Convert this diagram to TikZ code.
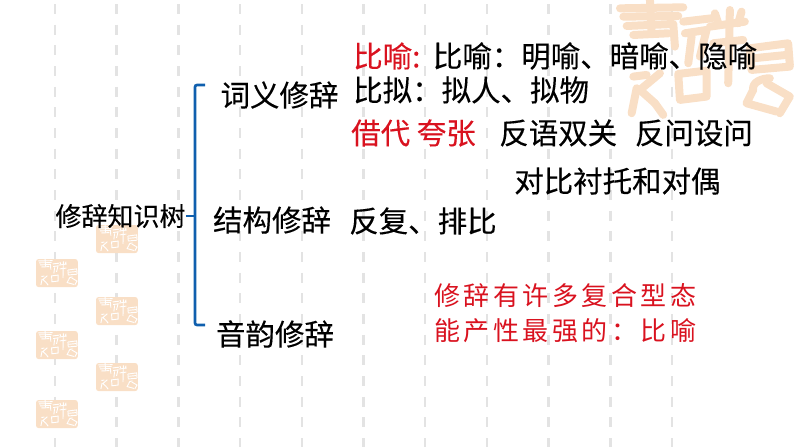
\documentclass[tikz,border=0pt]{standalone}
\usepackage{fontspec}
\setmainfont{Noto Sans CJK SC}
\newfontfamily\darkfont[FakeBold=0.25]{Noto Sans CJK SC}
\usetikzlibrary{positioning}
\definecolor{branch}{HTML}{0F5FAE}
\definecolor{alert}{HTML}{D9121F}
\definecolor{sealtone}{HTML}{F9DFC6}
\definecolor{gridline}{HTML}{E3E3E3}
\newcommand{\sealstrokes}[1]{%
  \draw[#1] (30,25) -- (220,22);
  \draw[#1] (40,50) -- (205,48);
  \draw[#1] (120,0) -- (125,100);
  \draw[#1] (50,78) -- (190,72) -- (195,140);
  \draw[#1] (70,105) -- (175,100);
  \draw[#1] (220,65) -- (305,55);
  \draw[#1] (225,100) -- (290,90) -- (270,170);
  \draw[#1] (245,110) -- (235,190);
  \draw[#1] (300,80) -- (405,65);
  \draw[#1] (360,30) -- (355,250);
  \draw[#1] (315,40) -- (325,70);
  \draw[#1] (395,35) -- (385,70);
  \draw[#1] (310,130) -- (400,120);
  \draw[#1] (420,145) -- (535,130) -- (540,195);
  \draw[#1] (420,145) -- (425,210) -- (540,200);
  \draw[#1] (430,175) -- (530,165);
  \draw[#1] (470,250) -- (540,290) -- (510,340);
  \draw[#1] (430,270) to[out=100,in=180] (480,235);
  \draw[#1] (430,270) -- (410,310) -- (500,335);
  \draw[#1] (150,220) -- (90,270) -- (135,310);
  \draw[#1] (70,230) -- (110,225);
  \draw[#1] (80,265) -- (65,340);
  \draw[#1] (135,310) -- (160,345);
  \draw[#1] (205,222) -- (290,212) -- (290,290) -- (210,300) -- cycle;
}
\begin{document}
\begin{tikzpicture}[
  x=0.75pt,y=-0.75pt,
  root/.style={inner sep=0pt,font=\darkfont\fontsize{19.5pt}{19.5pt}\selectfont},
  cat/.style={inner sep=0pt,font=\darkfont\fontsize{22.1pt}{22.1pt}\selectfont},
  leaf/.style={inner sep=0pt,anchor=west,font=\darkfont\fontsize{22.1pt}{22.1pt}\selectfont},
  note/.style={inner sep=0pt,anchor=west,text=alert,font=\fontsize{19.5pt}{19.5pt}\selectfont},
  arr/.style={branch,line width=2pt,rounded corners=1.5pt},
  big/.style={sealtone,line width=6pt,line cap=round,line join=round},
  small/.style={white,line width=0.7pt},
]
\useasboundingbox (0,0) rectangle (794,447);
% ruled paper
\foreach \x in {55,116.7,...,680}
  \draw[gridline,line width=1.9pt,dash pattern=on 7.5pt off 8pt,dash phase=12.5pt] (\x,0) -- (\x,447);
% big seal
\begin{scope}[shift={(610,0)},scale=0.333]
  \sealstrokes{big}
\end{scope}
% small seals
\foreach \sx/\sy in {96/225,36/259,96/297,36/331,96/363,36/400}{
  \begin{scope}[shift={(\sx,\sy)},scale=0.076]
    \fill[sealtone,rounded corners=2pt] (0,0) rectangle (550,370);
    \sealstrokes{small}
  \end{scope}
}

\node[root] (tree) at (120.5,216) {修辞知识树};
\node[cat] (ci) at (279.5,95) {词义修辞};
\node[cat] (jie) at (272,220) {结构修辞};
\node[cat] (yin) at (275,334) {音韵修辞};

\node[leaf,text=alert] (biyu) at (353,56) {比喻:};
\node[leaf,right=9pt of biyu] (biyus) {比喻：明喻、暗喻、隐喻};
\node[leaf] (bini) at (353,90) {比拟：拟人、拟物};
\node[leaf,text=alert] (jiedai) at (351,133) {借代 夸张};
\node[leaf] (fan) at (499,133) {反语双关};
\node[leaf,right=13pt of fan] (wen) {反问设问};
\node[leaf] (dui) at (514,181) {对比衬托和对偶};
\node[leaf] (fu) at (349,221) {反复、排比};
\node[note] (noteup) at (434,296) {\addfontfeature{LetterSpace=13.5}修辞有许多复合型态};
\node[note,below=7.5pt of noteup.south west,anchor=north west] (notelow) {\addfontfeature{LetterSpace=13.5}能产性最强的：比喻};

% bracket
\coordinate (top) at (205,85);
\coordinate (low) at (205,325);
\coordinate (mid) at (195,216);
\draw[arr] (top) -- (195,85) -- (195,325) -- (low);
\draw[arr] (tree.east |- mid) -- (mid);
\end{tikzpicture}
\end{document}
